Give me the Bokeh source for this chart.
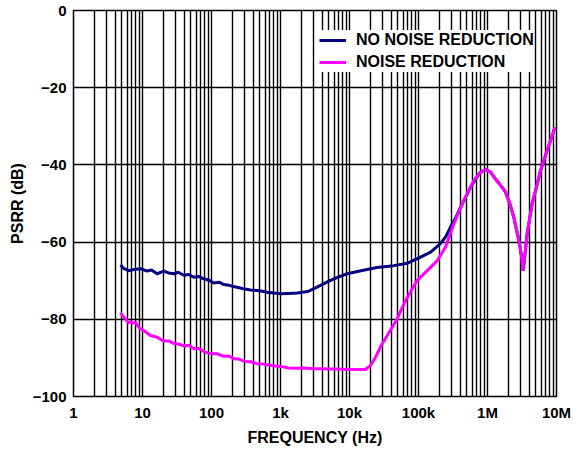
from bokeh.plotting import figure
from bokeh.models import FixedTicker, Legend, LegendItem
from bokeh.embed import file_html
from bokeh.resources import INLINE

# ---- data ----
freq_no_nr = [4.8, 5.4, 6.3, 7.5, 9.4, 11.7, 13.5, 16.3, 20.4, 24, 28.4, 33, 39.7, 47, 55, 65, 77,
              90, 108, 130, 151, 180, 210, 280, 367, 500, 641, 1000, 1300, 1750, 2500, 3000,
              4000, 5300, 7000, 9250, 13000, 18000, 25000, 44000, 68500, 107000, 150000,
              208000, 250000, 291000, 350000, 406000, 480000, 567000, 680000, 792000, 936000,
              1100000, 1300000, 1550000, 1820000, 2100000, 2400000, 2850000, 3100000, 3290000,
              3500000, 3760000, 4440000, 5000000, 5860000, 7300000, 9500000]
psrr_no_nr = [-65.9, -66.9, -67.4, -67.1, -66.9, -67.5, -67.2, -68.2, -67.5, -68.0, -68.2, -67.8,
              -68.6, -68.4, -69.1, -68.9, -69.5, -69.8, -70.6, -70.4, -71.0, -71.2, -71.5, -72.0,
              -72.4, -72.6, -73.0, -73.4, -73.3, -73.2, -72.8, -72.1, -71.0, -69.9, -69.0, -68.2,
              -67.6, -67.1, -66.6, -66.1, -65.5, -63.9, -62.6, -60.4, -58.5, -56.1, -53.5, -51.0,
              -48.5, -45.8, -43.5, -41.9, -41.2, -41.8, -43.6, -45.3, -47.0, -50.0, -53.5, -59.6,
              -63.5, -67.4, -63.0, -57.8, -50.0, -46.5, -41.5, -36.3, -30.3]

freq_nr = [4.8, 5.2, 5.7, 6.2, 6.7, 7.3, 7.9, 8.6, 9.4, 11, 13, 16, 20, 24, 28, 33, 40, 47, 55,
           65, 80, 100, 120, 150, 180, 210, 250, 300, 370, 460, 570, 700, 850, 1000, 1300, 1750,
           2300, 3000, 4000, 5000, 7000, 9200, 14000, 17000, 20000, 24000, 28000, 39000, 49000,
           65000, 95700, 134000, 187000, 246000, 325000, 454000, 634000, 792000, 936000,
           1100000, 1300000, 1550000, 1820000, 2100000, 2400000, 2850000, 3100000, 3290000,
           3500000, 3760000, 4440000, 5000000, 5860000, 7300000, 9500000]
psrr_nr = [-78.3, -79.2, -79.9, -80.9, -80.7, -81.0, -80.7, -81.8, -82.5, -83.2, -84.2, -84.6,
           -85.6, -85.6, -86.2, -86.4, -86.9, -86.7, -87.6, -87.5, -88.5, -88.9, -88.9, -89.6,
           -89.5, -90.2, -90.3, -90.9, -91.0, -91.5, -91.6, -91.9, -92.1, -92.2, -92.6, -92.7,
           -92.6, -92.8, -92.8, -92.9, -92.9, -93.0, -93.0, -93.0, -92.0, -89.8, -87.2, -82.9,
           -79.9, -75.1, -69.9, -67.4, -64.8, -61.3, -55.3, -49.2, -44.0, -41.9, -41.2, -41.8,
           -43.6, -45.3, -47.0, -50.0, -53.5, -59.6, -63.5, -67.4, -63.0, -57.8, -50.0, -46.5,
           -41.5, -36.3, -30.3]

x_ticks = [1, 10, 100, 1000, 10000, 100000, 1000000, 10000000]
x_tick_labels = ["1", "10", "100", "1k", "10k", "100k", "1M", "10M"]
y_ticks = [-100, -80, -60, -40, -20, 0]
y_tick_labels = ["\u2212100", "\u221280", "\u221260", "\u221240", "\u221220", "0"]

series_names = ["NO NOISE REDUCTION", "NOISE REDUCTION"]
series_colors = ["#000080", "#FF00FF"]

FONT = "Liberation Sans"

p = figure(frame_width=483, frame_height=386, x_axis_type="log", x_range=(1, 1e7),
           y_range=(-100, 0), output_backend="svg", toolbar_location=None,
           min_border_left=73, min_border_right=23, min_border_top=10, min_border_bottom=53)
p.background_fill_color = "white"
p.border_fill_color = "white"
p.outline_line_color = "black"
p.outline_line_width = 1.5

minor = [m * d for d in x_ticks[:-1] for m in range(2, 10)]
p.xaxis.ticker = FixedTicker(ticks=x_ticks, minor_ticks=minor)
p.xaxis.major_label_overrides = {t: l for t, l in zip(x_ticks, x_tick_labels)}
p.yaxis.ticker = FixedTicker(ticks=y_ticks)
p.yaxis.major_label_overrides = {t: l for t, l in zip(y_ticks, y_tick_labels)}

for ax in (p.xaxis, p.yaxis):
    ax.major_tick_line_color = None
    ax.minor_tick_line_color = None
    ax.major_tick_out = 0
    ax.minor_tick_out = 0
    ax.axis_line_color = None
    ax.major_label_text_font = FONT
    ax.major_label_text_font_style = "bold"
    ax.major_label_text_font_size = "15px"
    ax.major_label_text_color = "black"
    ax.axis_label_text_font = FONT
    ax.axis_label_text_font_style = "bold"
    ax.axis_label_text_font_size = "16px"
    ax.axis_label_text_color = "black"

p.xaxis.axis_label = "FREQUENCY (Hz)"
p.yaxis.axis_label = "PSRR (dB)"
p.xaxis.major_label_standoff = 7
p.xaxis.axis_label_standoff = 5
p.yaxis.major_label_standoff = 7
p.yaxis.axis_label_standoff = 4

p.xgrid.grid_line_color = "black"
p.xgrid.grid_line_width = 1.4
p.xgrid.minor_grid_line_color = "black"
p.xgrid.minor_grid_line_width = 1.4
p.ygrid.grid_line_color = "black"
p.ygrid.grid_line_width = 1.4

r1 = p.line(freq_no_nr, psrr_no_nr, line_color=series_colors[0], line_width=3)
r2 = p.line(freq_nr, psrr_nr, line_color=series_colors[1], line_width=3)

legend = Legend(items=[LegendItem(label=series_names[0], renderers=[r1]),
                       LegendItem(label=series_names[1], renderers=[r2])],
                location=(246, 324))
legend.background_fill_color = "white"
legend.background_fill_alpha = 1.0
legend.border_line_color = None
legend.label_text_font = FONT
legend.label_text_font_style = "bold"
legend.label_text_font_size = "16px"
legend.label_text_color = "black"
legend.glyph_width = 27
legend.glyph_height = 20
legend.label_height = 20
legend.label_standoff = 10
legend.spacing = 2
legend.padding = 7
legend.margin = 0
p.add_layout(legend, "center")

open("out.html", "w").write(file_html(p, INLINE))
